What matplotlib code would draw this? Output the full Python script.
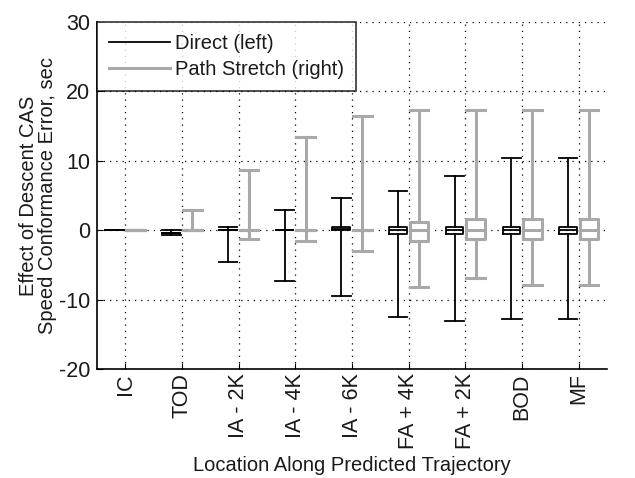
import matplotlib
matplotlib.use("Agg")
import matplotlib.pyplot as plt
from matplotlib.lines import Line2D

plt.rcParams['font.family'] = ['Liberation Sans', 'DejaVu Sans']
plt.rcParams['axes.unicode_minus'] = False

categories = ["IC", "TOD", "IA - 2K", "IA - 4K", "IA - 6K", "FA + 4K", "FA + 2K", "BOD", "MF"]

# Direct (left) box statistics
direct_lo = [0, -0.7, -4.5, -7.3, -9.4, -12.5, -13.1, -12.7, -12.7]
direct_q1 = [0, -0.35, 0.0, 0.0, 0.0, -0.5, -0.5, -0.5, -0.5]
direct_med = [0, -0.35, 0.0, 0.0, 0.25, 0.0, 0.0, 0.0, 0.0]
direct_q3 = [0, -0.35, 0.0, 0.0, 0.55, 0.5, 0.5, 0.5, 0.5]
direct_hi = [0, 0.0, 0.5, 3.0, 4.7, 5.6, 7.8, 10.4, 10.4]

# Path Stretch (right) box statistics
ps_lo = [0, 0.0, -1.3, -1.5, -3.0, -8.1, -6.8, -7.8, -7.8]
ps_q1 = [0, 0.0, 0.0, 0.0, 0.0, -1.5, -1.3, -1.3, -1.3]
ps_med = [0, 0.0, 0.0, 0.0, 0.0, 0.0, 0.0, 0.0, 0.0]
ps_q3 = [0, 0.0, 0.0, 0.0, 0.0, 1.2, 1.6, 1.6, 1.6]
ps_hi = [0, 3.0, 8.7, 13.5, 16.5, 17.3, 17.3, 17.3, 17.3]

GRAY = '#a9a9a9'
TXT = '#1a1a1a'
FS = 14.5
TFS = 15.5

fig = plt.figure(figsize=(6.35, 4.78), dpi=100)
ax = fig.add_axes([0.1528, 0.2274, 0.8032, 0.7266])

def stats(lo, q1, med, q3, hi):
    return [dict(whislo=a, q1=b, med=c, q3=d, whishi=e, fliers=[])
            for a, b, c, d, e in zip(lo, q1, med, q3, hi)]

n = len(categories)
pos = list(range(1, n + 1))

ax.bxp(stats(ps_lo, ps_q1, ps_med, ps_q3, ps_hi),
       positions=[p + 0.18 for p in pos], widths=0.33, showfliers=False,
       boxprops=dict(color=GRAY, linewidth=2.2),
       whiskerprops=dict(color=GRAY, linewidth=2.2, linestyle='-'),
       capprops=dict(color=GRAY, linewidth=2.2),
       medianprops=dict(color=GRAY, linewidth=2.2), capwidths=0.33)
ax.bxp(stats(direct_lo, direct_q1, direct_med, direct_q3, direct_hi),
       positions=[p - 0.19 for p in pos], widths=0.31, showfliers=False,
       boxprops=dict(color='black', linewidth=1.3),
       whiskerprops=dict(color='black', linewidth=1.3, linestyle='-'),
       capprops=dict(color='black', linewidth=1.3),
       medianprops=dict(color='black', linewidth=1.3), capwidths=0.33)

ax.set_xlim(0.5, n + 0.5)
ax.set_ylim(-20, 30)
ax.set_yticks([-20, -10, 0, 10, 20, 30])
ax.set_xticks(pos)
ax.set_xticklabels(categories, rotation=90, fontsize=TFS, color=TXT)
ax.tick_params(axis='y', labelsize=TFS, labelcolor=TXT, pad=5)
ax.tick_params(axis='x', pad=3)
ax.tick_params(direction='in', length=4, color='black')
ax.grid(True, linestyle=(0, (1, 4)), color='black', linewidth=0.9)
ax.set_axisbelow(True)
for s in ['top', 'right']:
    ax.spines[s].set_visible(False)
for s in ['left', 'bottom']:
    ax.spines[s].set_linewidth(1.2)

ax.set_xlabel("Location Along Predicted Trajectory", fontsize=FS, labelpad=5, color=TXT)
ax.set_ylabel("Effect of Descent CAS\nSpeed Conformance Error, sec", fontsize=FS,
              labelpad=1, color=TXT, linespacing=1.0)

handles = [Line2D([], [], color='black', linewidth=1.3),
           Line2D([], [], color=GRAY, linewidth=2.2)]
leg = ax.legend(handles, ["Direct (left)", "Path Stretch (right)"], loc='upper left',
                fontsize=FS, frameon=True, fancybox=False, borderaxespad=0,
                handlelength=3.0, handletextpad=0.25, labelspacing=0.35,
                borderpad=0.6)
for t in leg.get_texts():
    t.set_color(TXT)
leg.get_frame().set_edgecolor('black')
leg.get_frame().set_linewidth(1.2)

fig.savefig("out.png", dpi=100)
